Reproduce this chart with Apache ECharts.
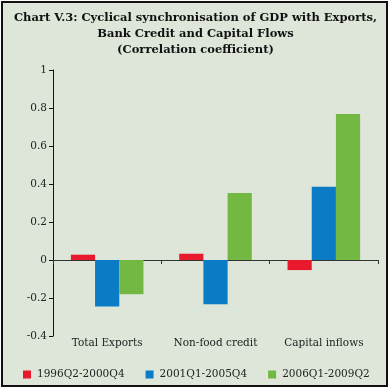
<!DOCTYPE html>
<html><head><meta charset="utf-8">
<script src="https://cdn.jsdelivr.net/npm/echarts@6/dist/echarts.min.js"></script>
<style>
html,body{margin:0;padding:0;background:#fff;}
#frame{position:absolute;left:1px;top:1px;width:387px;height:386px;border:2px solid #111;background:#dde6d9;box-sizing:border-box;}
#c{position:absolute;left:0;top:0;width:391px;height:390px;}
</style></head>
<body>
<div id="frame"></div>
<div id="c"></div>
<script>
const categories = ['Total Exports', 'Non-food credit', 'Capital inflows'];
const seriesNames = ['1996Q2-2000Q4', '2001Q1-2005Q4', '2006Q1-2009Q2'];
const s1 = [0.028, 0.033, -0.053];
const s2 = [-0.245, -0.233, 0.385];
const s3 = [-0.18, 0.352, 0.768];
const colors = ['#e8192c', '#0a7bc4', '#73b843'];
const titleLines = ['Chart V.3: Cyclical synchronisation of GDP with Exports,', 'Bank Credit and Capital Flows', '(Correlation coefficient)'];

const font = 'DejaVu Serif';
const chart = echarts.init(document.getElementById('c'), null, {renderer:'canvas'});
const data = [s1, s2, s3];
chart.setOption({
  animation: false,
  backgroundColor: 'transparent',
  title: {
    text: titleLines.join('\n'),
    left: 'center', top: 5,
    textStyle: {fontFamily: font, fontWeight: 'bold', fontSize: 11.5, lineHeight: 16, color: '#111'}
  },
  legend: {
    bottom: 5, left: 18, itemGap: 21,
    itemWidth: 8, itemHeight: 8, icon: 'rect',
    textStyle: {fontFamily: font, fontSize: 10.5, color: '#222', padding: [0,0,0,1]},
    data: seriesNames
  },
  grid: {left: 53, right: 13, top: 70, bottom: 54, containLabel: false},
  xAxis: [{
    type: 'category', data: categories,
    axisLine: {show: true, onZero: true, lineStyle: {color: '#333', width: 1}},
    axisTick: {show: true, length: 4, inside: false, lineStyle: {color: '#333'}},
    axisLabel: {show: false}
  }, {
    type: 'category', data: categories, position: 'bottom',
    axisLine: {show: false}, axisTick: {show: false},
    axisLabel: {show: true, interval: 0, fontFamily: font, fontSize: 10.5, color: '#222', margin: 2}
  }],
  yAxis: {
    type: 'value', min: -0.4, max: 1, interval: 0.2,
    axisLine: {show: true, onZero: false, lineStyle: {color: '#111', width: 1}},
    axisTick: {show: true, length: 4, lineStyle: {color: '#111'}},
    splitLine: {show: false},
    axisLabel: {fontFamily: font, fontSize: 10.5, color: '#222', margin: 6,
      formatter: v => { const r = Math.round(v*10)/10; return String(r); }}
  },
  series: data.map((d, i) => ({
    name: seriesNames[i], type: 'bar', data: d,
    barGap: '0%', barCategoryGap: '33%',
    itemStyle: {color: colors[i]}
  }))
});
</script>
</body></html>
